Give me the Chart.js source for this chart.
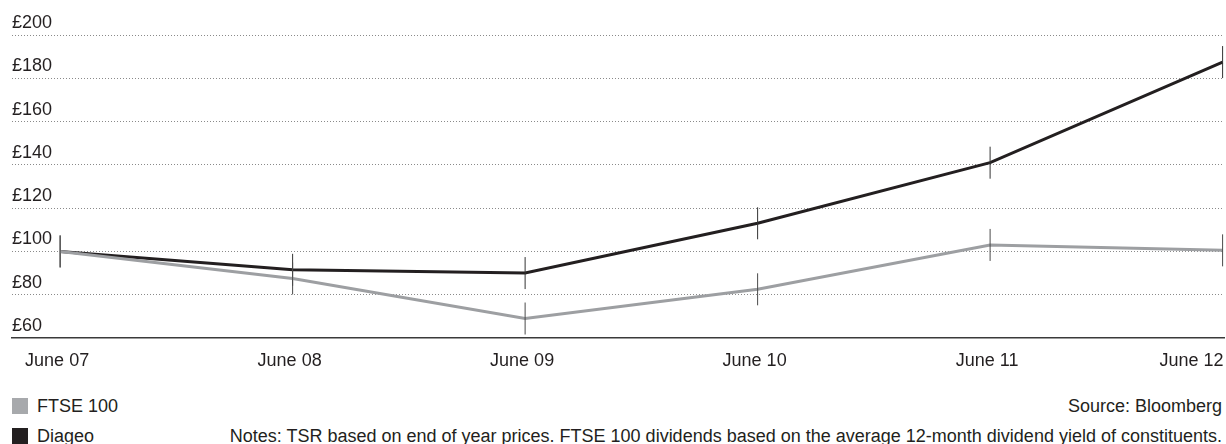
<!DOCTYPE html>
<html>
<head>
<meta charset="utf-8">
<script src="https://cdn.jsdelivr.net/npm/chart.js@4"></script>
<style>
  body { margin: 0; background: #fff; font-family: "Liberation Sans", Arial, Helvetica, sans-serif; color: #231f20; }
  #wrap { position: relative; width: 1226px; height: 444px; }
  #box { position: absolute; left: 0; top: 0; width: 1226px; height: 380px; }
  .txt { position: absolute; font-size: 18px; line-height: 20px; white-space: nowrap; }
  .sw { position: absolute; width: 16px; height: 16px; }
</style>
</head>
<body>
<div id="wrap">
  <div id="box"><canvas id="tsrChart"></canvas></div>

  <div class="sw" style="left:12px; top:398px; background:#a7a9ac;"></div>
  <div class="txt" style="left:37px; top:396px;">FTSE 100</div>
  <div class="sw" style="left:12px; top:428px; background:#231f20;"></div>
  <div class="txt" style="left:37px; top:426px;">Diageo</div>

  <div class="txt" style="right:4px; top:396px;">Source: Bloomberg</div>
  <div class="txt" style="right:4px; top:426px;">Notes: TSR based on end of year prices. FTSE 100 dividends based on the average 12-month dividend yield of constituents.</div>
</div>

<script>
var categories = ['June 07', 'June 08', 'June 09', 'June 10', 'June 11', 'June 12'];
var diageo = [100, 91.5, 90, 113, 141, 187.5];
var ftse   = [100, 87.5, 69, 82.5, 103, 100.5];
var yTicks = [60, 80, 100, 120, 140, 160, 180, 200];

var FONT = "'Liberation Sans', Arial, Helvetica, sans-serif";

function toPoints(arr) {
  return arr.map(function (v, i) { return { x: i, y: v }; });
}

// x labels: centred under the points, last one right-aligned
var xLabels = {
  id: 'xLabels',
  afterDraw: function (chart) {
    var ctx = chart.ctx;
    var sx = chart.scales.x;
    ctx.save();
    ctx.font = '18px ' + FONT;
    ctx.fillStyle = '#231f20';
    ctx.textBaseline = 'middle';
    categories.forEach(function (lab, i) {
      var px = sx.getPixelForValue(i);
      var last = i === categories.length - 1;
      ctx.textAlign = last ? 'right' : 'center';
      ctx.fillText(lab, last ? px + 1 : px - 3, 361);
    });
    ctx.restore();
  }
};

new Chart(document.getElementById('tsrChart'), {
  type: 'line',
  data: {
    datasets: [
      {
        label: 'FTSE 100',
        data: toPoints(ftse),
        borderColor: '#9d9fa2',
        borderWidth: 3,
        pointStyle: 'line',
        rotation: 90,
        pointRadius: 16,
        pointBorderColor: '#4a4a4a',
        pointBorderWidth: 1,
        tension: 0,
      },
      {
        label: 'Diageo',
        data: toPoints(diageo),
        borderColor: '#231f20',
        borderWidth: 3,
        pointStyle: 'line',
        rotation: 90,
        pointRadius: 16,
        pointBorderColor: '#333',
        pointBorderWidth: 1,
        tension: 0,
      },
    ],
  },
  options: {
    responsive: true,
    maintainAspectRatio: false,
    animation: false,
    events: [],
    layout: { autoPadding: false, padding: { left: 12, right: 2, top: 35, bottom: 42 } },
    plugins: {
      legend: { display: false },
      tooltip: { enabled: false },
    },
    scales: {
      x: {
        type: 'linear',
        min: -0.207,
        max: 5.006,
        ticks: { display: false },
        grid: { display: false, drawTicks: false },
        border: { display: true, color: '#3a3a3a', width: 1.5 },
      },
      y: {
        min: 60,
        max: 200,
        afterBuildTicks: function (axis) {
          axis.ticks = yTicks.map(function (v) { return { value: v }; });
        },
        afterFit: function (axis) { axis.width = 0; },
        ticks: {
          mirror: true,
          padding: 0,
          labelOffset: -12,
          color: '#231f20',
          font: { family: FONT, size: 18 },
          callback: function (v) { return '£' + v; },
        },
        grid: {
          drawTicks: false,
          lineWidth: 1,
          color: function (c) { return c.tick && c.tick.value === 60 ? 'rgba(0,0,0,0)' : '#8a8a8a'; },
        },
        border: { display: false, dash: [1, 2] },
      },
    },
  },
  plugins: [xLabels],
});
</script>
</body>
</html>
